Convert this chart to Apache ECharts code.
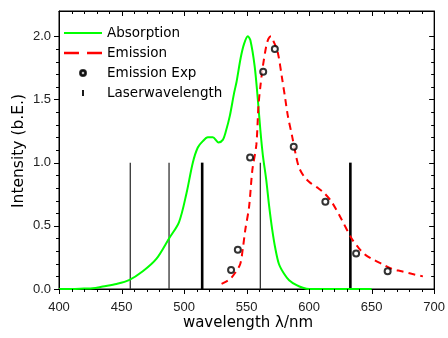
<!DOCTYPE html>
<html>
<head>
<meta charset="utf-8">
<script src="https://cdn.jsdelivr.net/npm/echarts@6/dist/echarts.min.js"></script>
<style>html,body{margin:0;padding:0;background:#fff}#c{width:448px;height:338px}</style>
</head>
<body>
<div id="c"></div>
<script>
// Absorption spectrum (green)
const absNm  = [400, 410, 420, 427, 435, 446, 456, 467, 478, 488, 496, 502, 507, 511, 515, 519, 523, 527.5, 531, 533.5, 536.6, 540, 542, 545.3, 548, 551, 553, 556.5, 559, 561, 563, 565.7, 568, 570.5, 573, 575.8, 580, 584, 590, 595, 600, 650];
const absVal = [0, 0, 0.003, 0.005, 0.02, 0.04, 0.07, 0.14, 0.24, 0.40, 0.53, 0.76, 1.0, 1.12, 1.17, 1.20, 1.20, 1.16, 1.18, 1.25, 1.37, 1.55, 1.64, 1.83, 1.94, 2.0, 1.97, 1.76, 1.5, 1.26, 1.06, 0.865, 0.66, 0.47, 0.32, 0.20, 0.12, 0.07, 0.03, 0.01, 0, 0];
// Emission spectrum (red dashed)
const emNm  = [530, 534, 537, 541, 545, 547, 549, 552, 554.6, 557.8, 559.5, 561, 563, 565.7, 567.5, 569.5, 572, 575, 578.5, 581, 583, 586.4, 589.6, 592, 596, 601, 607, 612, 618, 626, 634, 640, 645, 652, 658, 666, 674, 682, 691];
const emVal = [0.04, 0.06, 0.08, 0.13, 0.20, 0.32, 0.47, 0.65, 0.94, 1.14, 1.45, 1.60, 1.76, 1.92, 1.98, 2.0, 1.95, 1.87, 1.66, 1.5, 1.37, 1.21, 1.05, 0.96, 0.89, 0.84, 0.80, 0.76, 0.69, 0.55, 0.40, 0.32, 0.27, 0.23, 0.20, 0.16, 0.14, 0.12, 0.10];
// Emission experimental points
const expNm  = [537.6, 543, 552.8, 563.3, 572.6, 587.7, 613, 637.6, 662.8];
const expVal = [0.15, 0.31, 1.04, 1.72, 1.90, 1.125, 0.69, 0.28, 0.14];
// Laser wavelengths (thin and thick lines)
const laserThinNm  = [457, 488, 561];
const laserThickNm = [514.5, 633];
const laserHeight  = 1.0;
// Axis ticks and titles
const xTicks = [400, 450, 500, 550, 600, 650, 700];
const yTicks = [0.0, 0.5, 1.0, 1.5, 2.0];
const yMax = 2.2;
const xTitle = 'wavelength λ/nm';
const yTitle = 'Intensity (b.E.)';

const xMin = xTicks[0], xMax = xTicks[xTicks.length - 1];
const pairs = (xs, ys) => xs.map((x, i) => [x, ys[i]]);
const laserData = xs => xs.map(x => [x, laserHeight]);

// tick positions (major + minor) derived from the tick arrays
const xTickAll = [];
for (let v = xMin; v <= xMax; v += 10) xTickAll.push(v);
const yTickAll = [];
for (let i = 0; i <= 20; i++) yTickAll.push(+(i * 0.1).toFixed(1));
function isMajorX(v) { return xTicks.indexOf(v) >= 0; }
function isMajorY(v) { return yTicks.some(function (t) { return Math.abs(t - v) < 1e-6; }); }

const fontTick = 'Liberation Sans';
const fontText = 'DejaVu Sans';

function laserRender(width, color) {
  return function (params, api) {
    const p0 = api.coord([api.value(0), 0]);
    const p1 = api.coord([api.value(0), api.value(1)]);
    return {
      type: 'line',
      shape: { x1: p0[0], y1: p0[1], x2: p1[0], y2: p1[1] },
      style: { stroke: color, lineWidth: width }
    };
  };
}
function seg(x1, y1, x2, y2) {
  return { type: 'line', shape: { x1: x1, y1: y1, x2: x2, y2: y2 }, style: { stroke: '#000', lineWidth: 1 } };
}
// x ticks: outward at bottom, inward at top
function xTickRender(params, api) {
  const v = api.value(0);
  const pb = api.coord([v, 0]);
  const pt = api.coord([v, yMax]);
  const x = Math.round(pb[0]) + 0.5;
  const len = isMajorX(v) ? 5 : 3;
  return { type: 'group', children: [seg(x, pb[1], x, pb[1] + len), seg(x, pt[1], x, pt[1] + len)] };
}
// y ticks: outward at left, inward at right
function yTickRender(params, api) {
  const v = api.value(1);
  const pl = api.coord([xMin, v]);
  const pr = api.coord([xMax, v]);
  const y = Math.round(pl[1]) + 0.5;
  const len = isMajorY(v) ? 5 : 3;
  return { type: 'group', children: [seg(pl[0] - len, y, pl[0], y), seg(pr[0] - len, y, pr[0], y)] };
}

function xAx(pos, labels) {
  return {
    type: 'value', min: xMin, max: xMax, interval: 50,
    position: pos,
    splitLine: { show: false },
    axisLine: { show: true, onZero: false, lineStyle: { color: '#000', width: 1 } },
    axisTick: { show: false },
    axisLabel: { show: labels, margin: 12, fontFamily: fontTick, fontSize: 13, color: '#222' }
  };
}
function yAx(pos, labels) {
  return {
    type: 'value', min: 0, max: yMax, interval: 0.1, position: pos,
    splitLine: { show: false },
    axisLine: { show: true, onZero: false, lineStyle: { color: '#000', width: 1 } },
    axisTick: { show: false },
    axisLabel: { show: labels, margin: 8, fontFamily: fontTick, fontSize: 13, color: '#222',
      customValues: yTicks, formatter: function (v) { return v.toFixed(1); } }
  };
}

const chart = echarts.init(document.getElementById('c'), null, { renderer: 'canvas' });
chart.setOption({
  animation: false,
  backgroundColor: '#fff',
  grid: { left: 59, right: 12, top: 11, bottom: 49, show: true, borderColor: '#000', borderWidth: 1, backgroundColor: 'transparent' },
  legend: {
    orient: 'vertical', left: 59, top: 21, itemWidth: 38, itemHeight: 6, itemGap: 6,
    textStyle: { fontFamily: fontText, fontSize: 13.5, color: '#000' },
    data: [
      { name: 'Absorption', icon: 'path://M0,0L38,0L38,2L0,2Z', itemStyle: { color: '#00ff00' } },
      { name: 'Emission', icon: 'path://M0,0h13v2h-13z M20,0h13v2h-13z', itemStyle: { color: '#ff0000' } },
      { name: 'Emission Exp', icon: 'path://M5,0A5,5,0,1,1,5,10A5,5,0,1,1,5,0Z M5,1.8A3.2,3.2,0,1,0,5,8.2A3.2,3.2,0,1,0,5,1.8Z', itemStyle: { color: '#000' } },
      { name: 'Laserwavelength', icon: 'path://M0,0L3,0L3,10L0,10Z', itemStyle: { color: '#000' } }
    ]
  },
  graphic: [
    { type: 'text', x: 248, y: 323,
      style: { text: xTitle, fontFamily: fontText, fontSize: 15, fill: '#000', align: 'center', verticalAlign: 'middle' } },
    { type: 'text', x: 19, y: 151, rotation: Math.PI / 2,
      style: { text: yTitle, fontFamily: fontText, fontSize: 15.5, fill: '#000', align: 'center', verticalAlign: 'middle' } }
  ],
  xAxis: [ xAx('bottom', true), xAx('top', false) ],
  yAxis: [ yAx('left', true), yAx('right', false) ],
  series: [
    {
      name: 'xTicks', type: 'custom', xAxisIndex: 0, yAxisIndex: 0, clip: false, silent: true,
      renderItem: xTickRender, data: xTickAll.map(function (v) { return [v, 0]; }), z: 6
    },
    {
      name: 'yTicks', type: 'custom', xAxisIndex: 0, yAxisIndex: 0, clip: false, silent: true,
      renderItem: yTickRender, data: yTickAll.map(function (v) { return [xMin, v]; }), z: 6
    },
    {
      name: 'Laserwavelength', type: 'custom', xAxisIndex: 0, yAxisIndex: 0,
      itemStyle: { color: '#000' },
      renderItem: laserRender(1.3, '#333'), data: laserData(laserThinNm), z: 1
    },
    {
      name: 'Laserwavelength', type: 'custom', xAxisIndex: 0, yAxisIndex: 0,
      itemStyle: { color: '#000' },
      renderItem: laserRender(2.6, '#000'), data: laserData(laserThickNm), z: 1
    },
    {
      name: 'Absorption', type: 'line', xAxisIndex: 0, yAxisIndex: 0,
      data: pairs(absNm, absVal), symbol: 'none', smooth: 0.3,
      itemStyle: { color: '#00ff00' },
      lineStyle: { color: '#00ff00', width: 2 }, z: 3
    },
    {
      name: 'Emission', type: 'line', xAxisIndex: 0, yAxisIndex: 0,
      data: pairs(emNm, emVal), symbol: 'none', smooth: 0.3,
      itemStyle: { color: '#ff0000' },
      lineStyle: { color: '#ff0000', width: 2, type: [7, 5] }, z: 3
    },
    {
      name: 'Emission Exp', type: 'scatter', xAxisIndex: 0, yAxisIndex: 0,
      data: pairs(expNm, expVal), symbol: 'emptyCircle', symbolSize: 6,
      itemStyle: { color: '#000', borderColor: '#000', borderWidth: 1.2 }, z: 4
    }
  ]
});
</script>
</body>
</html>
